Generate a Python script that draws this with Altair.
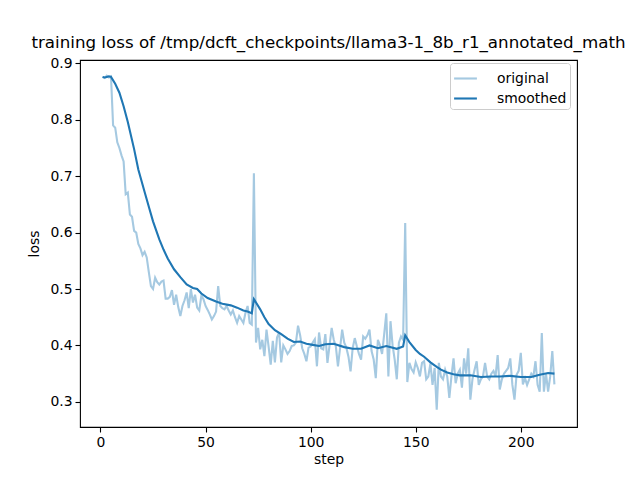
import altair as alt
import pandas as pd

title_text = "training loss of /tmp/dcft_checkpoints/llama3-1_8b_r1_annotated_math"

steps = list(range(1, 217))
original = [
    0.876, 0.874, 0.878, 0.875, 0.877, 0.790, 0.786, 0.760, 0.750, 0.737,
    0.726, 0.668, 0.671, 0.632, 0.628, 0.603, 0.600, 0.580, 0.572, 0.560,
    0.566, 0.556, 0.530, 0.505, 0.500, 0.520, 0.512, 0.508, 0.513, 0.515,
    0.483, 0.483, 0.486, 0.498, 0.472, 0.490, 0.468, 0.452, 0.470, 0.480,
    0.494, 0.466, 0.500, 0.476, 0.490, 0.467, 0.462, 0.488, 0.482, 0.470,
    0.463, 0.455, 0.446, 0.452, 0.460, 0.505, 0.470, 0.466, 0.464, 0.470,
    0.462, 0.455, 0.462, 0.450, 0.440, 0.452, 0.446, 0.440, 0.458, 0.470,
    0.440, 0.437, 0.705, 0.405, 0.431, 0.393, 0.410, 0.381, 0.428, 0.398,
    0.366, 0.408, 0.370, 0.414, 0.423, 0.370, 0.400, 0.393, 0.385, 0.390,
    0.399, 0.400, 0.405, 0.435, 0.418, 0.395, 0.385, 0.372, 0.396, 0.398,
    0.405, 0.411, 0.363, 0.423, 0.395, 0.393, 0.420, 0.369, 0.400, 0.431,
    0.410, 0.398, 0.363, 0.395, 0.428, 0.405, 0.396, 0.380, 0.354, 0.395,
    0.413, 0.398, 0.385, 0.375, 0.416, 0.412, 0.418, 0.428, 0.390, 0.375,
    0.342, 0.410, 0.400, 0.385, 0.420, 0.457, 0.345, 0.443, 0.400, 0.375,
    0.340, 0.405, 0.416, 0.410, 0.617, 0.335, 0.369, 0.358, 0.352, 0.370,
    0.360, 0.345, 0.369, 0.372, 0.340, 0.345, 0.368, 0.330, 0.360, 0.286,
    0.369, 0.345, 0.340, 0.357, 0.345, 0.307, 0.345, 0.377, 0.333, 0.350,
    0.357, 0.325, 0.377, 0.350, 0.395, 0.304, 0.340, 0.357, 0.372, 0.330,
    0.340, 0.345, 0.369, 0.345, 0.340, 0.350, 0.355, 0.345, 0.383, 0.322,
    0.340, 0.350, 0.355, 0.360, 0.377, 0.330, 0.304, 0.348, 0.355, 0.387,
    0.331, 0.342, 0.330, 0.340, 0.350, 0.345, 0.372, 0.330, 0.318, 0.422,
    0.318, 0.350, 0.318, 0.345, 0.390, 0.331,
]

smooth_steps = [
    1, 2, 3, 4, 5, 7, 9, 11, 13, 16, 18, 21, 23, 25, 28, 30, 32, 35, 38, 41,
    44, 46, 48, 51, 55, 58, 62, 65, 68, 70, 72, 73, 74, 76, 78, 80, 83, 86, 89, 92,
    95, 98, 101, 104, 107, 111, 116, 120, 124, 128, 132, 136, 141, 144, 145, 147, 150, 152, 154, 157,
    160, 162, 165, 168, 171, 176, 181, 186, 190, 195, 200, 205, 209, 213, 216,
]
smoothed = [
    0.876, 0.875, 0.876, 0.877, 0.876, 0.864, 0.848, 0.824, 0.796, 0.748,
    0.712, 0.672, 0.646, 0.620, 0.588, 0.570, 0.554, 0.535, 0.521, 0.508,
    0.502, 0.500, 0.492, 0.484, 0.478, 0.474, 0.471, 0.467, 0.462, 0.460,
    0.457, 0.482, 0.476, 0.464, 0.450, 0.438, 0.427, 0.420, 0.412, 0.406,
    0.407, 0.403, 0.401, 0.399, 0.402, 0.403, 0.397, 0.394, 0.394, 0.400,
    0.395, 0.399, 0.394, 0.398, 0.418, 0.406, 0.392, 0.385, 0.380, 0.370,
    0.362, 0.357, 0.352, 0.349, 0.347, 0.347, 0.344, 0.345, 0.345, 0.346,
    0.344, 0.344, 0.348, 0.351, 0.350,
]

series_names = ["original", "smoothed"]
series_colors = ["#a5c9e1", "#1f77b4"]
x_ticks = [0, 50, 100, 150, 200]
y_ticks = [0.3, 0.4, 0.5, 0.6, 0.7, 0.8, 0.9]

df_o = pd.DataFrame({"step": steps, "loss": original, "series": "original"})
df_s = pd.DataFrame({"step": smooth_steps, "loss": smoothed, "series": "smoothed"})

FONT = "DejaVu Sans"

x_enc = alt.X("step:Q", scale=alt.Scale(domain=[-9.75, 226.75], nice=False, zero=False),
              axis=alt.Axis(values=x_ticks, title="step"))
y_enc = alt.Y("loss:Q", scale=alt.Scale(domain=[0.2554, 0.906], nice=False, zero=False),
              axis=alt.Axis(values=y_ticks, format=".1f", title="loss"))
color_enc = alt.Color("series:N",
                      scale=alt.Scale(domain=series_names, range=series_colors),
                      legend=alt.Legend(title=None, orient="none", legendX=370, legendY=3,
                                        symbolType="stroke", symbolSize=520,
                                        symbolStrokeWidth=2.1, labelFontSize=13.9,
                                        labelFont=FONT, labelColor="black",
                                        strokeColor="#cccccc", fillColor="white",
                                        cornerRadius=3, padding=3, rowPadding=0,
                                        labelOffset=19, offset=0))

l1 = alt.Chart(df_o).mark_line(strokeWidth=2.1).encode(x=x_enc, y=y_enc, color=color_enc)
l2 = alt.Chart(df_s).mark_line(strokeWidth=2.1).encode(x=x_enc, y=y_enc, color=color_enc)

chart = alt.layer(l1, l2).properties(
    width=497, height=367,
    title=alt.TitleParams(title_text, font=FONT, fontSize=16.7, fontWeight="normal",
                          color="black", anchor="middle", offset=5),
    autosize=alt.AutoSizeParams(type="none"),
    padding={"left": 72, "top": 52, "right": 55, "bottom": 45},
).configure_view(stroke="black", strokeWidth=1.1).configure_axis(
    domain=False, grid=False, tickColor="black", tickSize=5, tickWidth=1.1,
    labelFont=FONT, labelFontSize=13.9, labelColor="black", labelPadding=3,
    titleFont=FONT, titleFontSize=13.9, titleColor="black", titleFontWeight="normal",
).configure_axisY(titlePadding=8).configure_axisX(titlePadding=4)

chart.save("out.html", embed_options={"renderer": "svg", "actions": False})
